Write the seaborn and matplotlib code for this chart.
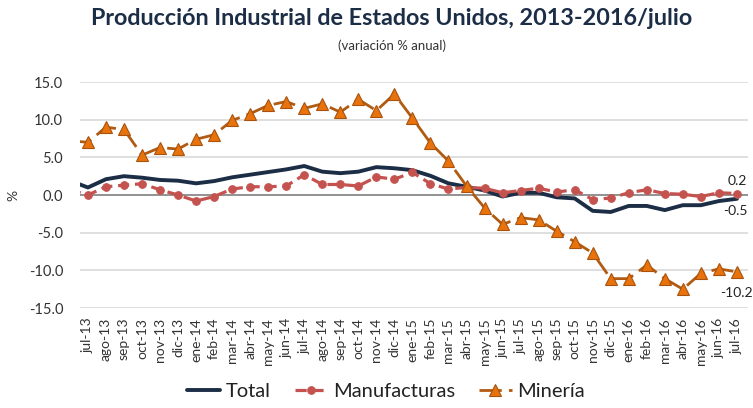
import pandas as pd
import seaborn as sns
import matplotlib.pyplot as plt

# meses (jun-13 solo sirve para el tramo que entra por el borde izquierdo)
meses = ['jun-13', 'jul-13', 'ago-13', 'sep-13', 'oct-13', 'nov-13', 'dic-13',
         'ene-14', 'feb-14', 'mar-14', 'abr-14', 'may-14', 'jun-14', 'jul-14',
         'ago-14', 'sep-14', 'oct-14', 'nov-14', 'dic-14',
         'ene-15', 'feb-15', 'mar-15', 'abr-15', 'may-15', 'jun-15', 'jul-15',
         'ago-15', 'sep-15', 'oct-15', 'nov-15', 'dic-15',
         'ene-16', 'feb-16', 'mar-16', 'abr-16', 'may-16', 'jun-16', 'jul-16']

total = [1.9, 1.0, 2.1, 2.5, 2.3, 2.0, 1.9, 1.55, 1.85, 2.35, 2.7, 3.05, 3.4, 3.85,
         3.1, 2.9, 3.1, 3.7, 3.55, 3.3, 2.55, 1.55, 1.1, 0.6, -0.2, 0.3,
         0.3, -0.3, -0.45, -2.1, -2.25, -1.45, -1.45, -2.0, -1.35, -1.35, -0.8, -0.5]

manufacturas = [0.7, 0.0, 1.1, 1.3, 1.5, 0.7, 0.0, -0.8, -0.2, 0.8, 1.1, 1.1, 1.2, 2.7,
                1.4, 1.4, 1.2, 2.4, 2.1, 3.0, 1.5, 0.8, 1.0, 0.9, 0.3, 0.6,
                0.9, 0.4, 0.7, -0.6, -0.4, 0.3, 0.7, 0.2, 0.1, -0.2, 0.3, 0.2]

mineria = [7.2, 7.0, 9.0, 8.7, 5.3, 6.3, 6.1, 7.4, 8.0, 9.9, 10.8, 11.9, 12.4, 11.5,
           12.1, 11.0, 12.7, 11.2, 13.4, 10.2, 6.9, 4.5, 1.2, -1.7, -3.9, -3.0,
           -3.3, -4.8, -6.2, -7.7, -11.1, -11.1, -9.3, -11.1, -12.5, -10.4, -9.8, -10.2]

yticks = [15, 10, 5, 0, -5, -10, -15]

df = pd.DataFrame({'mes': meses, 'Total': total,
                   'Manufacturas': manufacturas, 'Minería': mineria})
df['pos'] = range(-1, len(meses) - 1)

sns.set_style('white')
plt.rcParams['font.family'] = ['Lato', 'DejaVu Sans']

fig = plt.figure(figsize=(7.53, 4.08), dpi=100)
ax = fig.add_axes([0.106, 0.245, 0.887, 0.554])

# rejilla
for v in yticks:
    if v == 0:
        ax.axhline(0, color='#7f7f7f', lw=1.2, zorder=1)
    else:
        ax.axhline(v, color='#d9d9d9', lw=1.2, zorder=0)

sns.lineplot(data=df, x='pos', y='Total', ax=ax, color='#1c2d46', lw=2.8,
             label='Total', zorder=3)
sns.lineplot(data=df, x='pos', y='Manufacturas', ax=ax, color='#c4534f', lw=2.3,
             linestyle=(0, (3.5, 1.8)), marker='o', markersize=5.5,
             markeredgecolor='#c4534f', label='Manufacturas', zorder=4)
sns.lineplot(data=df, x='pos', y='Minería', ax=ax, color='#b05a12', lw=2.0,
             linestyle=(0, (8, 2.6)), marker='^', markersize=8,
             markerfacecolor='#e8730c', markeredgecolor='#a8520e',
             markeredgewidth=0.8, label='Minería', zorder=5)

ax.set_xlim(-0.45, 36.6)
ax.set_ylim(-15, 15)
ax.set_xticks(df['pos'][1:])
ax.set_xticklabels(df['mes'][1:], rotation=90, fontsize=10, color='#333333')
ax.set_yticks(yticks)
ax.set_yticklabels([f'{v:.1f}' for v in yticks], fontsize=10.5, color='#333333')
ax.tick_params(axis='both', length=0, pad=12)
ax.tick_params(axis='x', pad=7)
ax.set_xlabel('')
ax.set_ylabel('%', fontsize=10, color='#333333')
ax.yaxis.set_label_coords(-0.09, 0.5)
for s in ax.spines.values():
    s.set_visible(False)

# etiquetas del último dato
last = df.iloc[-1]
ax.annotate(f"{last['Manufacturas']:.1f}", (last['pos'], last['Manufacturas']),
            xytext=(0, 9), textcoords='offset points', ha='center', va='center',
            fontsize=10, color='#222222')
ax.annotate(f"{last['Total']:.1f}", (last['pos'], last['Total']),
            xytext=(-1, -9), textcoords='offset points', ha='center', va='center',
            fontsize=10, color='#222222')
ax.annotate(f"{last['Minería']:.1f}", (last['pos'], last['Minería']),
            xytext=(0, -15), textcoords='offset points', ha='center', va='center',
            fontsize=10, color='#222222')

handles, labels = ax.get_legend_handles_labels()
ax.get_legend().remove()
fig.legend(handles, labels, loc='center', bbox_to_anchor=(0.513, 0.04), ncol=3,
           frameon=False, fontsize=14.5, handlelength=1.6, columnspacing=1.2,
           handletextpad=0.3, labelcolor='#222222')

fig.text(0.52, 0.955, 'Producción Industrial de Estados Unidos, 2013-2016/julio',
         ha='center', va='center', fontsize=16.8, fontweight='bold', color='#1c2d46')
fig.text(0.52, 0.888, '(variación % anual)', ha='center', va='center',
         fontsize=9.5, color='#333333')

fig.savefig('out.png', dpi=100)
